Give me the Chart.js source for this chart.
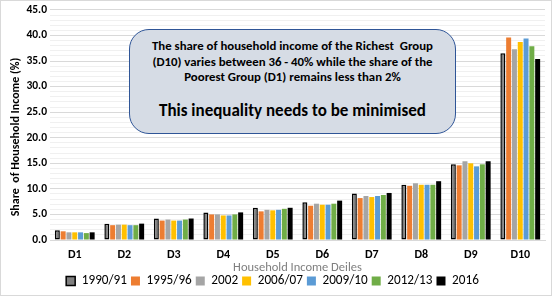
<!DOCTYPE html>
<html><head><meta charset="utf-8">
<script src="https://cdn.jsdelivr.net/npm/chart.js@4.4.1/dist/chart.umd.min.js"></script>
<style>
html,body{margin:0;padding:0;background:#fff;}
#wrap{position:relative;width:552px;height:296px;}
#frame{position:absolute;left:0;top:0;width:552px;height:296px;box-sizing:border-box;border:1px solid #d9d9d9;pointer-events:none;}
#note{position:absolute;left:129px;top:29px;width:327px;height:105px;box-sizing:border-box;border:1.5px solid #2f5597;border-radius:20px;background:#d6dce5;
font-family:Calibri,Carlito,Lato,sans-serif;font-weight:bold;color:#000;text-align:center;white-space:nowrap;}
#note .l1{font-size:12.8px;line-height:15.5px;margin-top:8px;}
#note .l2{font-size:17px;line-height:20px;margin-top:16px;}
</style></head>
<body><div id="wrap"><canvas id="c" width="552" height="296"></canvas>
<div id="note"><div class="l1">The share of household income of the Richest&nbsp; Group<br>(D10) varies between 36 - 40% while the share of the<br>Poorest Group (D1) remains less than 2%</div><div class="l2">This inequality needs to be minimised</div></div>
<div id="frame"></div></div>
<script>
const categories = ['D1','D2','D3','D4','D5','D6','D7','D8','D9','D10'];
const seriesNames = ['1990/91','1995/96','2002','2006/07','2009/10','2012/13','2016'];
const v1990 = [1.9, 3.2, 4.2, 5.4, 6.3, 7.4, 9.1, 10.8, 14.8, 36.5];
const v1995 = [1.7, 2.9, 3.8, 5.0, 5.6, 6.7, 8.2, 10.6, 14.6, 39.6];
const v2002 = [1.5, 3.0, 4.0, 5.0, 5.9, 7.1, 8.6, 11.1, 15.4, 37.3];
const v2006 = [1.5, 3.0, 3.8, 4.8, 5.8, 6.9, 8.4, 10.8, 15.0, 38.7];
const v2009 = [1.5, 2.9, 3.8, 4.8, 5.9, 6.9, 8.6, 10.8, 14.4, 39.4];
const v2012 = [1.35, 2.9, 4.0, 5.0, 6.1, 7.1, 8.8, 10.8, 14.8, 37.9];
const v2016 = [1.5, 3.2, 4.2, 5.4, 6.3, 7.7, 9.2, 11.5, 15.4, 35.4];
const yTicksMajor = [0,5,10,15,20,25,30,35,40,45];

const FONT = 'Calibri, Carlito, Lato, sans-serif';
const colors = ['#808080','#ed7d31','#a5a5a5','#ffc000','#5b9bd5','#70ad47','#000000'];
const values = [v1990,v1995,v2002,v2006,v2009,v2012,v2016];

const datasets = seriesNames.map((n,i)=>({
  label:n, data:values[i], backgroundColor:colors[i],
  borderColor: i===0 ? '#000' : colors[i], borderWidth: i===0 ? 1.5 : 0,
  borderSkipped:false,
  categoryPercentage:0.82, barPercentage:0.86
}));

const axisTitles = {
  id:'axisTitles',
  afterDraw(chart){
    const ctx = chart.ctx; ctx.save();
    ctx.font = '12.5px '+FONT; ctx.fillStyle='#7f7f7f'; ctx.textAlign='center'; ctx.textBaseline='middle';
    ctx.fillText('Household Income Deiles',(chart.chartArea.left+chart.chartArea.right)/2,268);
    ctx.translate(16,137); ctx.rotate(-Math.PI/2);
    ctx.font = 'bold 12px '+FONT; ctx.fillStyle='#000';
    ctx.fillText('Share  of Household Income (%)',0,0);
    ctx.restore();
  }
};

new Chart(document.getElementById('c'),{
  type:'bar',
  data:{labels:categories, datasets},
  options:{
    responsive:false, animation:false,
    layout:{padding:{left:0,right:7,top:2.1,bottom:-1.6}},
    plugins:{
      legend:{position:'bottom',
        labels:{boxWidth:9,boxHeight:9,padding:4,color:'#000',font:{family:FONT,size:13.2}}},
      tooltip:{enabled:false}
    },
    scales:{
      x:{
        grid:{display:false, drawTicks:false},
        border:{color:'#d9d9d9'},
        ticks:{color:'#000',font:{family:FONT,size:12,weight:'bold'},padding:8},
      },
      y:{
        min:0,max:45,
        afterFit(s){ s.width = 50; },
        ticks:{stepSize:1,autoSkip:false,color:'#000',font:{family:FONT,size:11.5,weight:'bold'},
          callback:(v)=> yTicksMajor.includes(v) ? v.toFixed(1) : ''},
        grid:{color:(c)=> (c.tick && yTicksMajor.includes(c.tick.value)) ? '#d9d9d9' : '#f0f0f0', drawTicks:false},
        border:{display:false}
      }
    }
  },
  plugins:[axisTitles]
});
</script>
</body></html>
